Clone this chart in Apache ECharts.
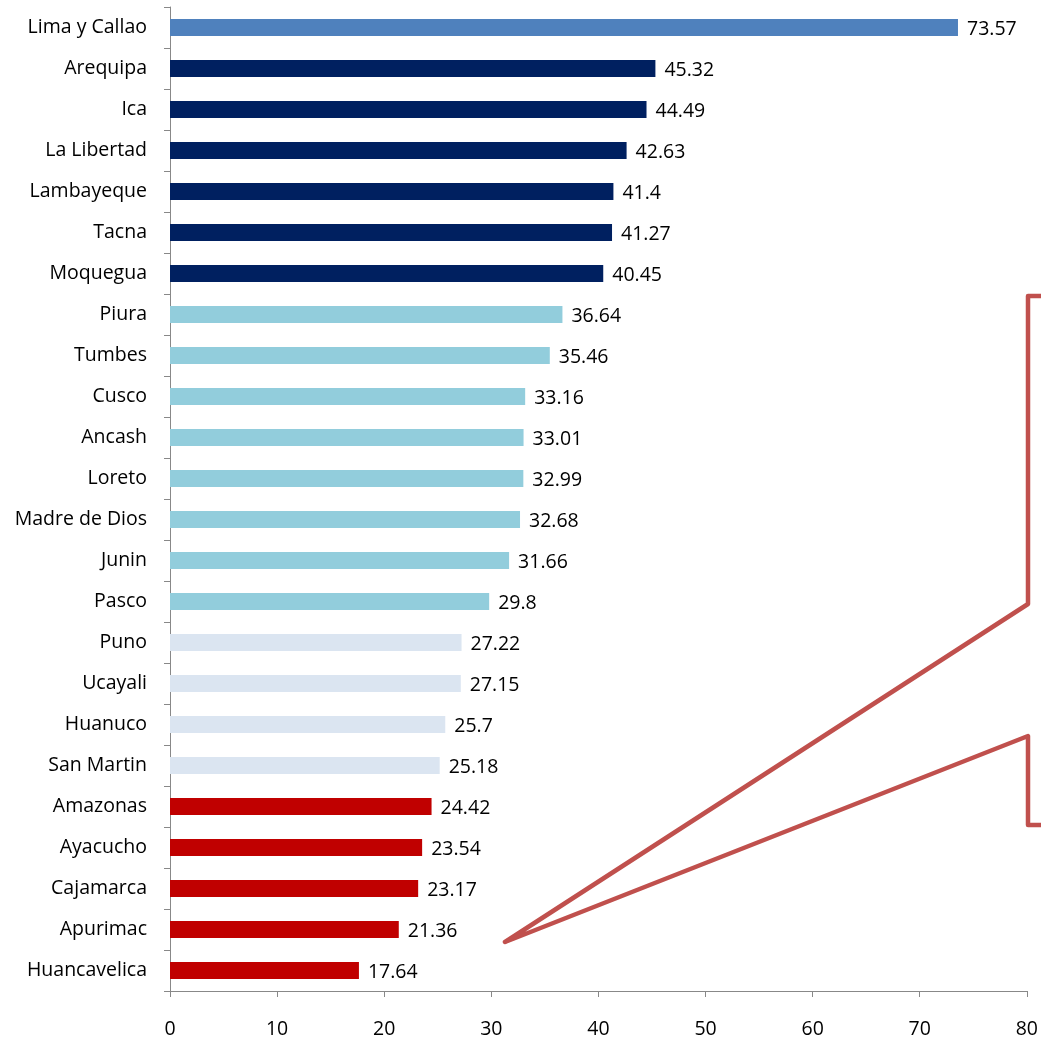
<!DOCTYPE html>
<html>
<head>
<meta charset="utf-8">
<script src="https://cdn.jsdelivr.net/npm/echarts@6/dist/echarts.min.js"></script>
<style>
html,body{margin:0;padding:0;background:#fff;}
#chart{width:1041px;height:1045px;}
</style>
</head>
<body>
<div id="chart"></div>
<script>
const categories = ["Lima y Callao","Arequipa","Ica","La Libertad","Lambayeque","Tacna","Moquegua","Piura","Tumbes","Cusco","Ancash","Loreto","Madre de Dios","Junin","Pasco","Puno","Ucayali","Huanuco","San Martin","Amazonas","Ayacucho","Cajamarca","Apurimac","Huancavelica"];
const values = [73.57,45.32,44.49,42.63,41.4,41.27,40.45,36.64,35.46,33.16,33.01,32.99,32.68,31.66,29.8,27.22,27.15,25.7,25.18,24.42,23.54,23.17,21.36,17.64];
const groups = [0,1,1,1,1,1,1,2,2,2,2,2,2,2,2,3,3,3,3,4,4,4,4,4];
const groupColors = ["#4F81BD","#002060","#92CDDC","#DBE5F1","#C00000"];
const xTicks = {min:0,max:80,interval:10};

const FONT = "Open Sans";
const chart = echarts.init(document.getElementById('chart'));
chart.setOption({
  animation:false,
  grid:{left:170,right:14,top:7,bottom:54,containLabel:false},
  xAxis:{
    type:'value',min:xTicks.min,max:xTicks.max,interval:xTicks.interval,
    axisLine:{show:true,lineStyle:{color:'#888888',width:1}},
    axisTick:{show:true,length:6,lineStyle:{color:'#888888'}},
    splitLine:{show:false},
    axisLabel:{color:'#000',fontFamily:FONT,fontSize:19.5,margin:28}
  },
  yAxis:{
    type:'category',data:categories,inverse:true,
    axisLine:{show:true,lineStyle:{color:'#888888',width:1}},
    axisTick:{show:true,length:6,alignWithLabel:false,lineStyle:{color:'#888888'}},
    axisLabel:{color:'#000',fontFamily:FONT,fontSize:19.5,margin:23}
  },
  series:[{
    type:'bar',
    barWidth:17,
    data:values.map((v,i)=>({value:v,itemStyle:{color:groupColors[groups[i]]}})),
    label:{show:true,position:'right',distance:9,color:'#000',fontFamily:FONT,fontSize:19.5,offset:[0,2]}
  }],
  graphic:[{
    type:'polyline',
    shape:{points:[[1046,296],[1028,296],[1028,604],[505,942],[1028,736],[1028,825],[1046,825]]},
    style:{stroke:'#C0504D',lineWidth:4.5,fill:null,lineJoin:'round',lineCap:'round'},
    z:10
  }]
});
</script>
</body>
</html>
